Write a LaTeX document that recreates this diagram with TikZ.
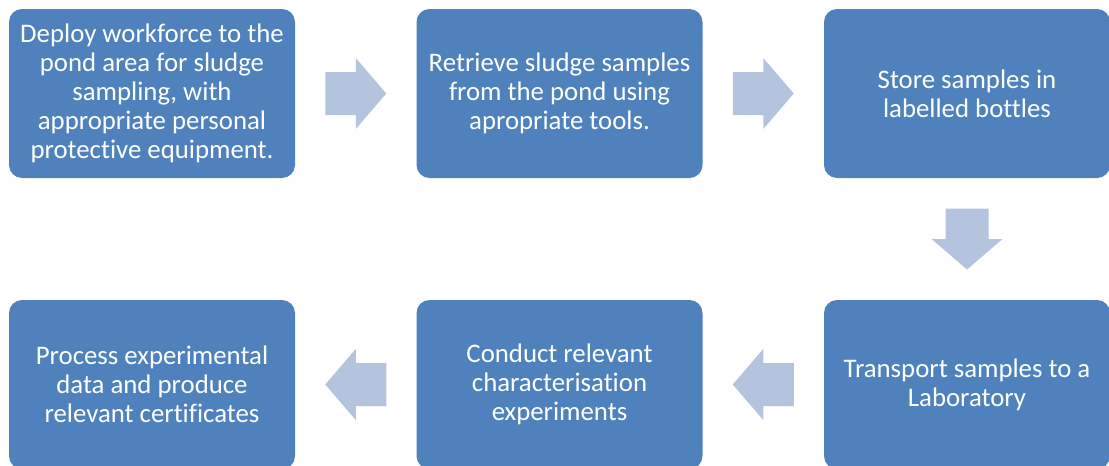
\documentclass[tikz,border=0pt]{standalone}
\usepackage{fontspec}
\setmainfont{Carlito}[Ligatures=NoCommon]
\usetikzlibrary{calc}
\definecolor{boxblue}{HTML}{4F81BD}
\definecolor{arrowblue}{RGB}{180,196,223}
\tikzset{
  stepbox/.style={rectangle, rounded corners=13pt, fill=boxblue, text=white,
    minimum width=286pt, minimum height=169pt, inner sep=0pt, align=center,
    font=\fontsize{26.8}{29}\selectfont},
  blockarrow/.pic={\fill[arrowblue] (-30.5,-21.5) -- (0,-21.5) -- (0,-35.5) -- (30.5,0) -- (0,35.5) -- (0,21.5) -- (-30.5,21.5) -- cycle;}
}
\begin{document}
\begin{tikzpicture}[x=1pt,y=1pt]
\useasboundingbox[fill=white] (0,0) rectangle (1109,-466);
\node[stepbox] (b1) at (152,-93.5) {Deploy workforce to the\\pond area for sludge\\sampling, with\\appropriate personal\\protective equipment.};
\node[stepbox] (b2) at (559.5,-93.5) {Retrieve sludge samples\\from the pond using\\apropriate tools.};
\node[stepbox] (b3) at (967,-93.5) {Store samples in\\labelled bottles};
\node[stepbox] (b6) at (967,-384.5) {Transport samples to a\\Laboratory};
\node[stepbox] (b5) at (559.5,-384.5) {Conduct relevant\\characterisation\\experiments};
\node[stepbox] (b4) at (152,-384.5) {Process experimental\\data and produce\\relevant certificates};
\coordinate (a12) at ($(b1.east)!0.5!(b2.west)$);
\coordinate (a23) at ($(b2.east)!0.5!(b3.west)$);
\coordinate (a36) at ($(b3.south)!0.5!(b6.north)$);
\coordinate (a65) at ($(b6.west)!0.5!(b5.east)$);
\coordinate (a54) at ($(b5.west)!0.5!(b4.east)$);
\pic at (a12) {blockarrow};
\pic at (a23) {blockarrow};
\pic[rotate=-90] at (a36) {blockarrow};
\pic[rotate=180] at (a65) {blockarrow};
\pic[rotate=180] at (a54) {blockarrow};
\end{tikzpicture}
\end{document}
